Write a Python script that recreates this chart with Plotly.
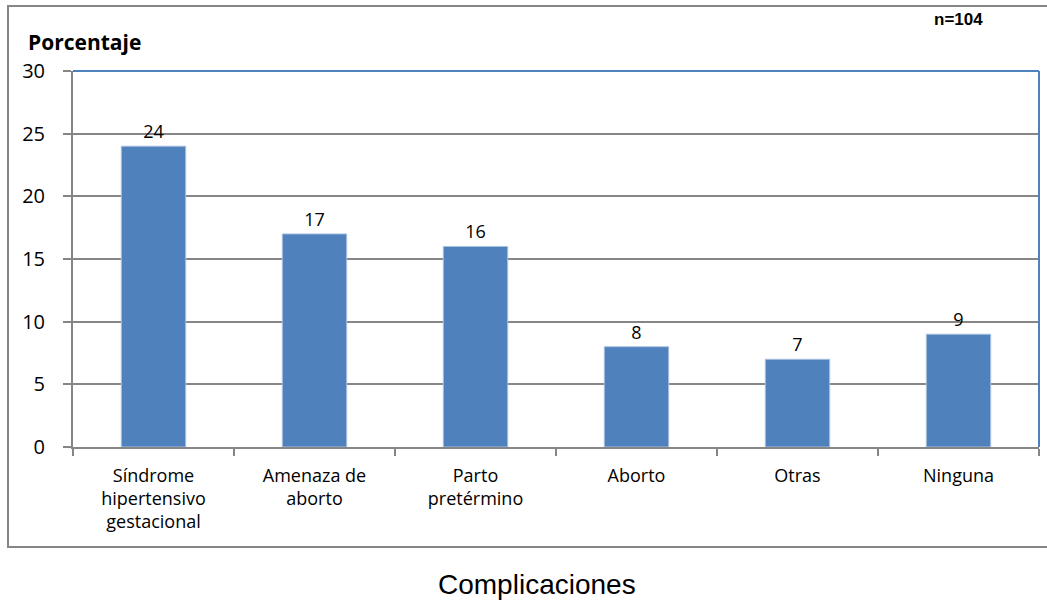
import plotly.graph_objects as go

categories = ["Síndrome<br>hipertensivo<br>gestacional", "Amenaza de<br>aborto", "Parto<br>pretérmino",
              "Aborto", "Otras", "Ninguna"]
values = [24, 17, 16, 8, 7, 9]
y_ticks = [0, 5, 10, 15, 20, 25, 30]

W, H = 1047, 609
L, R, T, B = 73, 8, 71, 162
pw, ph = W - L - R, H - T - B

def px_x(x):
    return (x - L) / pw

def px_y(y):
    return (H - B - y) / ph

GRAY = "#868686"
BLUE = "#4F81BD"
FONT = "Open Sans"

fig = go.Figure(go.Bar(
    x=categories, y=values,
    marker=dict(color=BLUE, line=dict(color="#A9C1E0", width=1)),
    width=0.4,
    text=[str(v) for v in values], textposition="outside",
    textfont=dict(family=FONT, size=18, color="#000"),
    cliponaxis=False,
))

fig.update_layout(
    width=W, height=H,
    margin=dict(l=L, r=R, t=T, b=B, pad=0),
    paper_bgcolor="white", plot_bgcolor="white",
    showlegend=False,
    font=dict(family=FONT, size=18, color="#000"),
    xaxis=dict(
        type="category", showgrid=False, tickson="boundaries",
        ticks="outside", ticklen=7, tickwidth=2, tickcolor=GRAY,
        showline=True, linecolor=GRAY, linewidth=2,
        tickfont=dict(family=FONT, size=18, color="#000"),
        ticklabelstandoff=11,
    ),
    yaxis=dict(
        range=[0, 30], tickvals=y_ticks, showgrid=True, gridcolor=GRAY, gridwidth=2,
        ticks="outside", ticklen=8, tickwidth=2, tickcolor=GRAY,
        showline=True, linecolor=GRAY, linewidth=2,
        tickfont=dict(family=FONT, size=20, color="#000"),
        ticklabelstandoff=14, zeroline=False,
    ),
    shapes=[
        # outer chart border
        dict(type="rect", xref="paper", yref="paper",
             x0=px_x(8), x1=px_x(1052), y0=px_y(547), y1=px_y(6),
             line=dict(color=GRAY, width=2), layer="below"),
        # plot-area top and right borders (blue)
        dict(type="line", xref="paper", yref="paper", x0=0, x1=1, y0=1, y1=1,
             line=dict(color=BLUE, width=2)),
        dict(type="line", xref="paper", yref="paper", x0=1, x1=1, y0=0, y1=1,
             line=dict(color=BLUE, width=2)),
    ],
    annotations=[
        dict(text="<b>Porcentaje</b>", xref="paper", yref="paper",
             x=px_x(26), y=px_y(42), xanchor="left", yanchor="middle", showarrow=False,
             font=dict(family=FONT, size=21, color="#000")),
        dict(text="<b>n=104</b>", xref="paper", yref="paper",
             x=px_x(958), y=px_y(20), xanchor="center", yanchor="middle", showarrow=False,
             font=dict(family="Liberation Sans", size=17, color="#000")),
        dict(text="Complicaciones", xref="paper", yref="paper",
             x=px_x(537), y=px_y(584), xanchor="center", yanchor="middle", showarrow=False,
             font=dict(family="Liberation Sans", size=28, color="#000")),
    ],
)

fig.write_html("out.html")
